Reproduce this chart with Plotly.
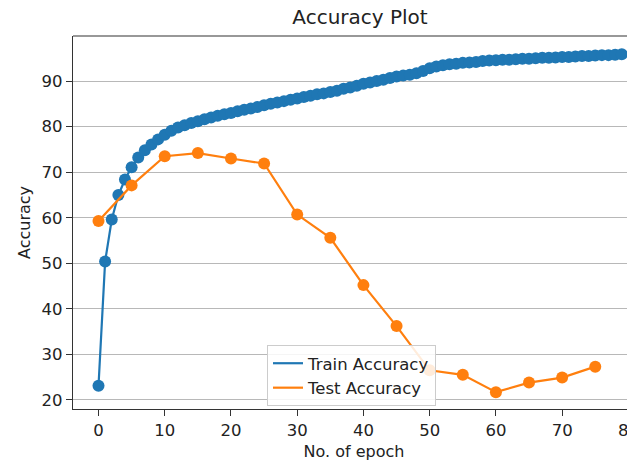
import plotly.graph_objects as go

train_epochs = list(range(80))
train_acc = [23.1, 50.4, 59.6, 65.0, 68.4, 71.1, 73.2, 74.8, 76.1, 77.2,
             78.2, 79.1, 79.8, 80.3, 80.8, 81.2, 81.6, 82.0, 82.4, 82.7,
             83.0, 83.4, 83.7, 84.0, 84.3, 84.7, 85.0, 85.3, 85.6, 85.9,
             86.2, 86.5, 86.8, 87.1, 87.3, 87.6, 87.9, 88.3, 88.6, 89.0,
             89.4, 89.7, 90.0, 90.3, 90.7, 91.0, 91.2, 91.4, 91.7, 92.2,
             92.8, 93.2, 93.5, 93.7, 93.8, 94.0, 94.1, 94.2, 94.4, 94.5,
             94.6, 94.7, 94.7, 94.8, 94.9, 94.9, 95.0, 95.1, 95.1, 95.2,
             95.3, 95.3, 95.4, 95.5, 95.5, 95.6, 95.7, 95.7, 95.8, 95.9]

test_epochs = [0, 5, 10, 15, 20, 25, 30, 35, 40, 45, 50, 55, 60, 65, 70, 75]
test_acc = [59.3, 67.1, 73.5, 74.2, 73.0, 71.9, 60.7, 55.6, 45.2, 36.2,
            26.5, 25.5, 21.7, 23.8, 24.9, 27.3]

x_ticks = [0, 10, 20, 30, 40, 50, 60, 70, 80]
y_ticks = [20, 30, 40, 50, 60, 70, 80, 90]

BLUE = "#1f77b4"
ORANGE = "#ff7f0e"
FONT = "DejaVu Sans"
INK = "#222222"

# page body has an 8px margin, so figure coords = window coords - 8
OFF = 8
W, H = 635, 462
L, T, B_WIN = 73, 36, 409          # plot area edges in window pixels
R_WIN = 635                         # plot area visible up to the window edge
ml = L - OFF
mt = T - OFF
mb = H - (B_WIN - OFF)
mr = W - (R_WIN - OFF)
plot_w = W - ml - mr
plot_h = H - mt - mb

fig = go.Figure()
fig.add_trace(go.Scatter(x=train_epochs, y=train_acc, mode="lines",
                         line=dict(color=BLUE, width=2.2), name="Train Accuracy"))
fig.add_trace(go.Scatter(x=train_epochs, y=train_acc, mode="markers",
                         marker=dict(color=BLUE, size=12), showlegend=False))
fig.add_trace(go.Scatter(x=test_epochs, y=test_acc, mode="lines",
                         line=dict(color=ORANGE, width=2.2), name="Test Accuracy"))
fig.add_trace(go.Scatter(x=test_epochs, y=test_acc, mode="markers",
                         marker=dict(color=ORANGE, size=12), showlegend=False))

fig.update_layout(
    width=W, height=H,
    margin=dict(l=ml, r=mr, t=mt, b=mb),
    paper_bgcolor="white", plot_bgcolor="white",
    font=dict(family=FONT, size=16, color=INK),
    title=dict(text="Accuracy Plot", x=(360 - OFF) / W, xanchor="center",
               y=1 - (17 - OFF) / H, yanchor="middle", font=dict(size=20, color=INK)),
    showlegend=True,
    legend=dict(x=(267 - L) / plot_w, y=(B_WIN - 345) / plot_h, xanchor="left", yanchor="top",
                bgcolor="rgba(255,255,255,0.85)", bordercolor="#cccccc", borderwidth=1,
                font=dict(size=16.5, color=INK), tracegroupgap=0),
    xaxis=dict(range=[-3.85, 81.0], tickvals=x_ticks, ticks="outside", ticklen=6,
               tickwidth=1.2, tickcolor="#333333", showgrid=False, zeroline=False,
               showline=True, linecolor="#333333", linewidth=1.2, mirror=False,
               automargin=False, ticklabeloverflow="allow",
               tickfont=dict(size=16.5),
               title=dict(text="No. of epoch", standoff=6, font=dict(size=16))),
    yaxis=dict(range=[18.0, 99.9], tickvals=y_ticks, ticks="outside", ticklen=6,
               tickwidth=1.2, tickcolor="#333333", showgrid=True, gridcolor="#b8b8b8",
               gridwidth=1, zeroline=False, showline=True, linecolor="#333333",
               linewidth=1.2, automargin=False, tickfont=dict(size=16.5),
               title=dict(text="Accuracy", standoff=6, font=dict(size=16))),
)
# top spine
fig.add_shape(type="line", xref="paper", yref="paper", x0=0, x1=1, y0=1, y1=1,
              line=dict(color="#333333", width=1.2))

fig.write_html("out.html")
